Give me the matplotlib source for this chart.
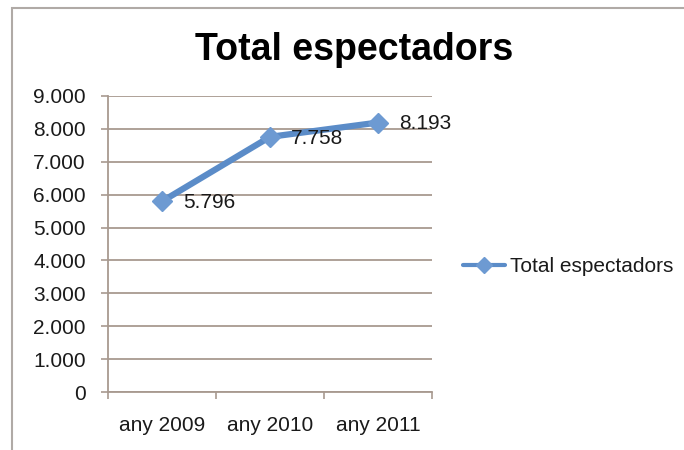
import matplotlib
matplotlib.use('Agg')
import matplotlib.pyplot as plt
from matplotlib.patches import Rectangle
import numpy as np

plt.rcParams['font.family'] = ['Liberation Sans', 'DejaVu Sans']

# data
years = ['any 2009', 'any 2010', 'any 2011']
espectadors = [5796, 7758, 8193]
series_name = 'Total espectadors'
y_ticks = [0, 1000, 2000, 3000, 4000, 5000, 6000, 7000, 8000, 9000]

def fmt_es(v):
    return f'{v:,.0f}'.replace(',', '.')

grid_col = '#a89a90'
line_col = '#5b8cc8'
txt_col = '#1a1a1a'

fig = plt.figure(figsize=(6.84, 4.5), dpi=100)
fig.patch.set_facecolor('white')

# outer frame of the chart area
fig.add_artist(Rectangle((12/684, -0.1), 1.0, 1 - 8/450 + 0.1, transform=fig.transFigure,
                         fill=False, edgecolor='#b0aaa6', linewidth=1.5))

ax = fig.add_axes([108/684, 1 - 392/450, 324/684, 296/450])
x = np.arange(len(years))
ax.plot(x, espectadors, color=line_col, linewidth=4.5, marker='D', markersize=10.5,
        markerfacecolor='#6d9ad2', markeredgecolor='#6d9ad2', solid_capstyle='round',
        label=series_name, zorder=3)

for xi, v in zip(x, espectadors):
    ax.annotate(fmt_es(v), (xi, v), textcoords='offset points', xytext=(15, -1),
                ha='left', va='center', fontsize=15, color=txt_col)

ax.set_xlim(-0.5, len(years) - 0.5)
ax.set_ylim(0, 9000)
ax.set_yticks(y_ticks)
ax.set_yticklabels([fmt_es(v) for v in y_ticks], fontsize=15, color=txt_col)
ax.set_xticks(x)
ax.set_xticklabels(years, fontsize=15, color=txt_col)
ax.tick_params(axis='x', which='major', length=0, pad=17)
ax.set_xticks(np.arange(len(years) + 1) - 0.5, minor=True)
ax.tick_params(axis='x', which='minor', length=5, color=grid_col, width=1.2)
ax.tick_params(axis='y', length=5, color=grid_col, width=1.2, pad=11)
ax.yaxis.grid(True, color=grid_col, linewidth=1.3)
ax.set_axisbelow(True)
for s in ['top', 'right']:
    ax.spines[s].set_visible(False)
ax.spines['left'].set_color(grid_col)
ax.spines['bottom'].set_color(grid_col)
ax.spines['left'].set_linewidth(1.3)
ax.spines['bottom'].set_linewidth(1.3)

fig.text(354/684, 1 - 50/450, 'Total espectadors', ha='center', va='center',
         fontsize=27, fontweight='bold', color='black')

leg = fig.legend(loc='center left', bbox_to_anchor=(463/684, 1 - 267/450), frameon=False,
                 fontsize=15, handlelength=2.0, handletextpad=0.25, markerscale=0.8,
                 borderaxespad=0, borderpad=0)
for t in leg.get_texts():
    t.set_color(txt_col)
for ln in leg.get_lines():
    ln.set_linewidth(3)

fig.savefig('out.png', dpi=100)
